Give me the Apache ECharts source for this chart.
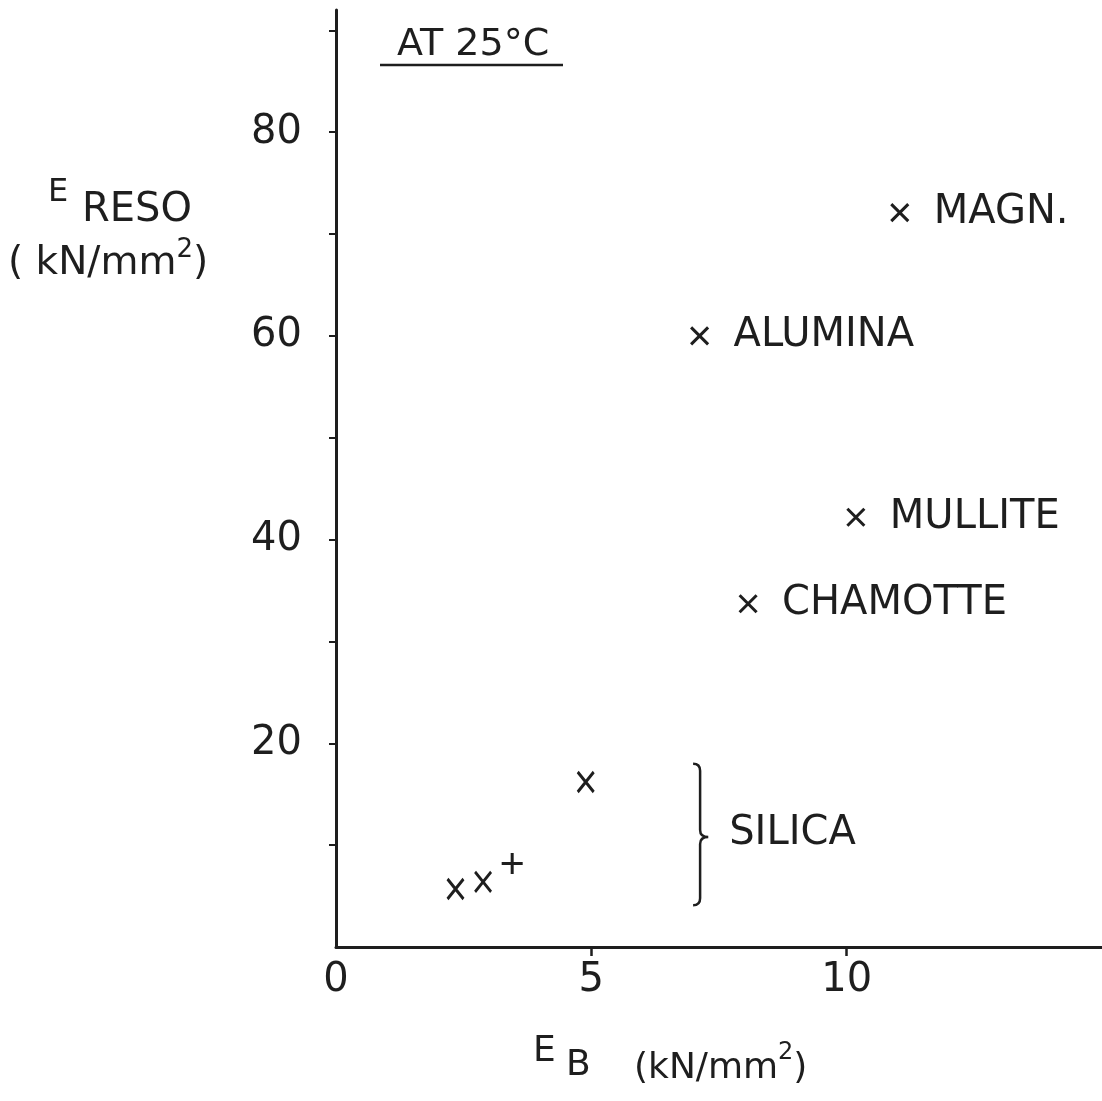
<!DOCTYPE html>
<html><head><meta charset="utf-8">
<script src="https://cdn.jsdelivr.net/npm/echarts@6/dist/echarts.min.js"></script>
<style>html,body{margin:0;padding:0;background:#fff}#c{width:1102px;height:1101px}</style>
</head><body><div id="c"></div>
<script>
// ---- data ----
const materials = ['MAGN.', 'ALUMINA', 'MULLITE', 'CHAMOTTE'];
const matEB = [11.04, 7.12, 10.18, 8.07];
const matERESO = [72.1, 60.0, 42.2, 33.7];
const silicaEB = [2.34, 2.88, 4.89];
const silicaERESO = [5.7, 6.4, 16.2];
const silicaPlusEB = [3.45];
const silicaPlusERESO = [8.2];
const silicaBrace = [7.13, 4.1, 18.0, 10.8, 7.29]; // x, bottom, top, middle, tip x
const silicaLabelX = 7.7;
const silicaLabel = 'SILICA';
const xTickLabels = [0, 5, 10];
const xTickMarks = [5, 10];
const yTickLabels = [20, 40, 60, 80];
const yTickMarks = [10, 20, 30, 40, 50, 60, 70, 80, 90];

const INK = '#1e1e1e';
const FONT = 'DejaVu Sans';

const chart = echarts.init(document.getElementById('c'), null, {renderer: 'canvas'});

const crossPath = 'path://M0,0L10,10M10,0L0,10';
const plusPath = 'path://M5,0L5,10M0,5L10,5';

function textEl(x, y, text, size) {
  return {type: 'text', x: x, y: y, style: {text: text, fontSize: size, fontFamily: FONT, fill: INK, align: 'left', verticalAlign: 'middle'}};
}

const markStyle = {color: 'rgba(0,0,0,0)', borderColor: INK, borderWidth: 3, opacity: 1};

const option = {
  backgroundColor: '#fff',
  animation: false,
  grid: {left: 336, right: -3.5, top: 10, bottom: 154, containLabel: false},
  xAxis: {
    type: 'value', min: 0, max: 15,
    axisLine: {show: true, lineStyle: {color: INK, width: 3}},
    axisTick: {show: true, length: 9, lineStyle: {color: INK, width: 2.5}, customValues: xTickMarks},
    axisLabel: {color: INK, fontSize: 40, fontFamily: FONT, margin: 14, customValues: xTickLabels},
    splitLine: {show: false}
  },
  yAxis: {
    type: 'value', min: 0, max: 92,
    axisLine: {show: true, lineStyle: {color: INK, width: 3}},
    axisTick: {show: true, length: 7, lineStyle: {color: INK, width: 2}, customValues: yTickMarks},
    axisLabel: {color: INK, fontSize: 40, fontFamily: FONT, margin: 34, customValues: yTickLabels},
    splitLine: {show: false}
  },
  graphic: [
    textEl(397, 45, 'AT 25°C', 38),
    {type: 'line', shape: {x1: 380, y1: 65, x2: 563, y2: 65}, style: {stroke: INK, lineWidth: 2.5}},
    textEl(48, 193, 'E', 32),
    textEl(82, 211, 'RESO', 40),
    {type: 'text', x: 8, y: 260, style: {
      text: '{n|( kN/mm}{s|2}{n|)}', fontFamily: FONT, fill: INK, align: 'left', verticalAlign: 'middle',
      rich: {n: {fontSize: 39, fontFamily: FONT, color: INK, lineHeight: 46, verticalAlign: 'bottom'},
             s: {fontSize: 26, fontFamily: FONT, color: INK, lineHeight: 46, verticalAlign: 'top'}}
    }},
    textEl(533, 1052, 'E', 36),
    textEl(566, 1066, 'B', 36),
    {type: 'text', x: 634, y: 1064, style: {
      text: '{n|(kN/mm}{s|2}{n|)}', fontFamily: FONT, fill: INK, align: 'left', verticalAlign: 'middle',
      rich: {n: {fontSize: 36, fontFamily: FONT, color: INK, lineHeight: 46, verticalAlign: 'bottom'},
             s: {fontSize: 24, fontFamily: FONT, color: INK, lineHeight: 46, verticalAlign: 'top'}}
    }}
  ],
  series: [
    {
      type: 'scatter', name: 'materials',
      data: materials.map((m, i) => ({name: m, value: [matEB[i], matERESO[i]]})),
      symbol: crossPath, symbolSize: 17,
      itemStyle: markStyle,
      label: {show: true, position: 'right', distance: 24, formatter: '{b}', color: INK, opacity: 1, fontSize: 40, fontFamily: FONT}
    },
    {
      type: 'scatter', name: 'silica',
      data: silicaEB.map((v, i) => [v, silicaERESO[i]]),
      symbol: crossPath, symbolSize: [16, 20],
      itemStyle: markStyle
    },
    {
      type: 'scatter', name: 'silica+',
      data: silicaPlusEB.map((v, i) => [v, silicaPlusERESO[i]]),
      symbol: plusPath, symbolSize: 21,
      itemStyle: markStyle
    },
    {
      type: 'custom', name: 'brace',
      data: [silicaBrace],
      renderItem: function (params, api) {
        const x = api.value(0), yb = api.value(1), yt = api.value(2), ym = api.value(3), xt = api.value(4);
        const pT = api.coord([x, yt]), pB = api.coord([x, yb]), pM = api.coord([x, ym]), pTip = api.coord([xt, ym]);
        const lx = pT[0], c = 7;
        const d = 'M' + (lx - 7) + ',' + pT[1] +
          ' Q' + lx + ',' + pT[1] + ' ' + lx + ',' + (pT[1] + c) +
          ' L' + lx + ',' + (pM[1] - c) +
          ' Q' + lx + ',' + pM[1] + ' ' + pTip[0] + ',' + pM[1] +
          ' Q' + lx + ',' + pM[1] + ' ' + lx + ',' + (pM[1] + c) +
          ' L' + lx + ',' + (pB[1] - c) +
          ' Q' + lx + ',' + pB[1] + ' ' + (lx - 7) + ',' + pB[1];
        const pL = api.coord([silicaLabelX, ym]);
        return {
          type: 'group',
          children: [
            {type: 'path', shape: {pathData: d}, style: {fill: 'none', stroke: INK, lineWidth: 2.5}},
            {type: 'text', x: pL[0], y: pL[1] - 3, style: {text: silicaLabel, fontSize: 40, fontFamily: FONT, fill: INK, align: 'left', verticalAlign: 'middle'}}
          ]
        };
      }
    }
  ]
};
chart.setOption(option);
</script>
</body></html>
